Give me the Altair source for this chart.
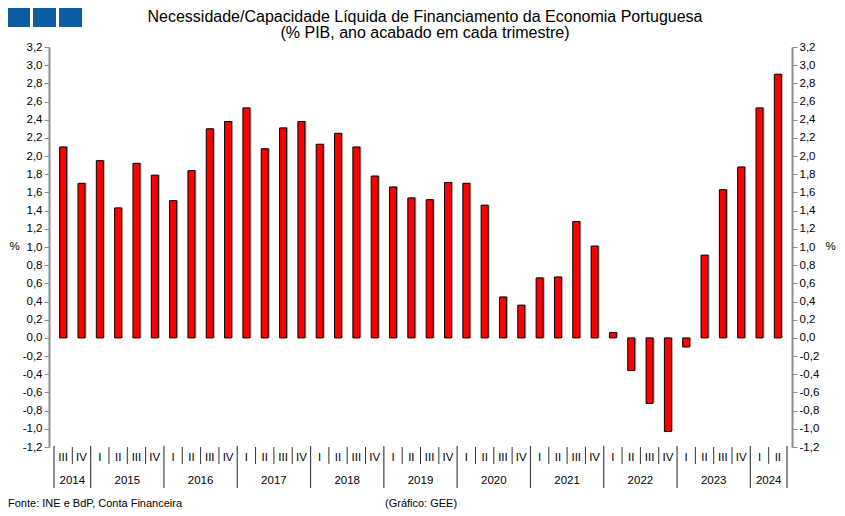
import altair as alt
import pandas as pd

# ---- data ----
quarters = ["III", "IV"] + ["I", "II", "III", "IV"] * 9 + ["I", "II"]
years = [2014] * 2 + [y for y in range(2015, 2024) for _ in range(4)] + [2024] * 2
values = [2.10, 1.70, 1.95, 1.43, 1.92, 1.79, 1.51, 1.84, 2.30, 2.38,
          2.53, 2.08, 2.31, 2.38, 2.13, 2.25, 2.10, 1.78, 1.66, 1.54,
          1.52, 1.71, 1.70, 1.46, 0.45, 0.36, 0.66, 0.67, 1.28, 1.01,
          0.06, -0.36, -0.72, -1.03, -0.10, 0.91, 1.63, 1.88, 2.53, 2.90]
year_labels = [str(y) for y in range(2014, 2025)]
y_ticks = [round(-1.2 + 0.2 * i, 1) for i in range(23)]

title1 = "Necessidade/Capacidade Líquida de Financiamento da Economia Portuguesa"
title2 = "(% PIB, ano acabado em cada trimestre)"
source = "Fonte: INE e BdP, Conta Financeira"
credit = "(Gráfico: GEE)"

FONT = "Liberation Sans"
W, H = 743, 400
N = len(values)

bars_df = pd.DataFrame({
    "pos": [i + 0.5 for i in range(N)],
    "value": values,
    "quarter": quarters,
    "year": years,
})

# quarter / year boundaries
bounds = list(range(N + 1))
year_bounds = [b for b in bounds if b == 0 or b == N or years[b - 1] != years[min(b, N - 1)]]
q_bounds = [b for b in bounds if b not in year_bounds]
qsep_df = pd.DataFrame({"pos": q_bounds})
ysep_df = pd.DataFrame({"pos": year_bounds})

ycent = []
for yl in year_labels:
    idx = [i for i, y in enumerate(years) if str(y) == yl]
    ycent.append((min(idx) + max(idx) + 1) / 2)
years_df = pd.DataFrame({"pos": ycent, "label": year_labels})

xscale = alt.Scale(domain=[0, N], nice=False, zero=False)
yscale = alt.Scale(domain=[-1.2, 3.2], nice=False, zero=False)
label_expr = "(datum.value < -0.0001 ? '-' : '') + replace(format(abs(datum.value), '.1f'), '.', ',')"
zero_px = H * 3.2 / 4.4

x_axis = alt.Axis(values=bounds, labels=False, title=None, grid=False,
                  position=zero_px, orient="bottom", tickSize=3,
                  tickColor="#333333", domainColor="#8c8c8c", domainWidth=1.5)

axis_common = dict(values=y_ticks, labelExpr=label_expr, grid=False,
                   tickSize=5, tickColor="#8c8c8c", domainColor="#8c8c8c",
                   domainWidth=2, labelFont=FONT, labelFontSize=11.5,
                   labelColor="#000000", labelPadding=2, title="%",
                   titleAngle=0, titleFont=FONT, titleFontSize=11.5,
                   titleFontWeight="normal", titleColor="#000000",
                   titleY=199, titleBaseline="middle", titleAlign="center")

shadow = alt.Chart(bars_df).mark_bar(size=7, color="#a8a8a8", xOffset=1.5, yOffset=-0.5).encode(
    x=alt.X("pos:Q", scale=xscale, axis=None),
    y=alt.Y("value:Q", scale=yscale,
            axis=alt.Axis(orient="right", titleX=38, **axis_common)),
    y2=alt.datum(0),
)

bars = alt.Chart(bars_df).mark_bar(size=7, color="#ff0000", stroke="#000000", strokeWidth=1).encode(
    x=alt.X("pos:Q", scale=xscale, axis=x_axis),
    y=alt.Y("value:Q", scale=yscale,
            axis=alt.Axis(orient="left", titleX=-35, **axis_common)),
    y2=alt.datum(0),
)

qsep = alt.Chart(qsep_df).mark_rule(color="#333333", strokeWidth=1).encode(
    x=alt.X("pos:Q", scale=xscale, axis=None),
    y=alt.value(400), y2=alt.value(417),
)
ysep = alt.Chart(ysep_df).mark_rule(color="#444444", strokeWidth=1.2).encode(
    x=alt.X("pos:Q", scale=xscale, axis=None),
    y=alt.value(399), y2=alt.value(441),
)

qlab = alt.Chart(bars_df).mark_text(font=FONT, fontSize=11.5, color="#000000",
                                    baseline="middle").encode(
    x=alt.X("pos:Q", scale=xscale, axis=None),
    y=alt.value(410.5),
    text="quarter:N",
)
ylab = alt.Chart(years_df).mark_text(font=FONT, fontSize=11.5, color="#000000",
                                     baseline="middle").encode(
    x=alt.X("pos:Q", scale=xscale, axis=None),
    y=alt.value(434),
    text="label:N",
)

one = pd.DataFrame({"t1": [title1], "t2": [title2], "s": [source], "c": [credit]})
t1 = alt.Chart(one).mark_text(font=FONT, fontSize=16, color="#000000", baseline="middle").encode(
    x=alt.value(376), y=alt.value(-30), text="t1:N")
t2 = alt.Chart(one).mark_text(font=FONT, fontSize=16, color="#000000", baseline="middle").encode(
    x=alt.value(376), y=alt.value(-14), text="t2:N")
src = alt.Chart(one).mark_text(font=FONT, fontSize=11, color="#000000", baseline="middle", align="left").encode(
    x=alt.value(-41), y=alt.value(457), text="s:N")
cred = alt.Chart(one).mark_text(font=FONT, fontSize=11, color="#000000", baseline="middle", align="left").encode(
    x=alt.value(336), y=alt.value(457), text="c:N")

sq_df = pd.DataFrame({"k": ["a", "b", "c"]})
sq1 = alt.Chart(sq_df.iloc[[0]]).mark_rect(color="#0b5ca1").encode(
    x=alt.value(-41), x2=alt.value(-19), y=alt.value(-39), y2=alt.value(-20))
sq2 = alt.Chart(sq_df.iloc[[1]]).mark_rect(color="#0b5ca1").encode(
    x=alt.value(-16), x2=alt.value(7), y=alt.value(-39), y2=alt.value(-20))
sq3 = alt.Chart(sq_df.iloc[[2]]).mark_rect(color="#0b5ca1").encode(
    x=alt.value(10), x2=alt.value(33), y=alt.value(-39), y2=alt.value(-20))

chart = alt.layer(
    shadow, bars, qsep, ysep, qlab, ylab, t1, t2, src, cred, sq1, sq2, sq3
).resolve_scale(y="independent").properties(
    width=W, height=H,
    autosize=alt.AutoSizeParams(type="none"),
    padding={"left": 41, "top": 39, "right": 45, "bottom": 63},
    background="#ffffff",
).configure_view(stroke=None)

chart.save("out.html", embed_options={"renderer": "svg", "actions": False})
